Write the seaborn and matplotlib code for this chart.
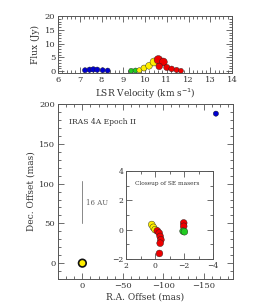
import pandas as pd
import seaborn as sns
import matplotlib.pyplot as plt
from matplotlib.ticker import MultipleLocator

# spectrum: LSR velocity (km/s), flux (Jy), colour group
vel_blue = [7.24, 7.45, 7.62, 7.80, 8.05, 8.28]
flux_blue = [0.3, 0.5, 0.6, 0.5, 0.3, 0.2]
vel_green = [9.36, 9.56]
flux_green = [0.1, 0.2]
vel_yellow = [9.74, 9.95, 10.18, 10.41]
flux_yellow = [0.3, 1.1, 1.9, 3.3]
vel_red = [10.61, 10.84, 10.65, 11.00, 11.22, 11.45, 11.65]
flux_red = [4.1, 3.3, 1.7, 1.3, 0.8, 0.4, 0.1]

# maps (mas)
ra_main = [-165.0, 0.0]
dec_main = [188.0, 0.0]
grp_main = ["blue", "yellow"]

ra_yellow_in = [0.23, 0.12, 0.0]
dec_yellow_in = [0.35, 0.16, 0.0]
ra_red_in = [-0.15, -0.28, -0.35, -0.40, -0.35, -0.30, -1.97, -1.97]
dec_red_in = [-0.08, -0.23, -0.46, -0.69, -0.92, -1.62, 0.46, 0.23]
ra_green_in = [-1.93, -2.02]
dec_green_in = [-0.10, -0.14]

colors = {"blue": "#0000d0", "green": "#22cc22", "yellow": "#ffee00", "red": "#ee0000"}

spec = pd.concat([
    pd.DataFrame({"vel": vel_blue, "flux": flux_blue, "grp": "blue"}),
    pd.DataFrame({"vel": vel_green, "flux": flux_green, "grp": "green"}),
    pd.DataFrame({"vel": vel_yellow, "flux": flux_yellow, "grp": "yellow"}),
    pd.DataFrame({"vel": vel_red, "flux": flux_red, "grp": "red"}),
])
main = pd.DataFrame({"ra": ra_main, "dec": dec_main, "grp": grp_main})
inset = pd.concat([
    pd.DataFrame({"ra": ra_yellow_in, "dec": dec_yellow_in, "grp": "yellow"}),
    pd.DataFrame({"ra": ra_red_in, "dec": dec_red_in, "grp": "red"}),
    pd.DataFrame({"ra": ra_green_in, "dec": dec_green_in, "grp": "green"}),
])

sns.set_style("ticks")
plt.rcParams["font.family"] = ["DejaVu Serif"]
plt.rcParams["font.size"] = 6
gray = "#555555"


def style(ax, xmaj, xmin, ymaj, ymin, fs=6):
    for s in ax.spines.values():
        s.set_color(gray)
        s.set_linewidth(0.7)
    ax.xaxis.set_major_locator(MultipleLocator(xmaj))
    ax.xaxis.set_minor_locator(MultipleLocator(xmin))
    ax.yaxis.set_major_locator(MultipleLocator(ymaj))
    ax.yaxis.set_minor_locator(MultipleLocator(ymin))
    ax.tick_params(which="both", direction="in", top=True, right=True,
                   color=gray, width=0.6, labelsize=fs, labelcolor="#333333", pad=2)
    ax.tick_params(which="major", length=4)
    ax.tick_params(which="minor", length=2)


fig = plt.figure(figsize=(2.74, 3.08), dpi=100)

# spectrum
ax1 = fig.add_axes([0.212, 0.763, 0.635, 0.185])
sns.scatterplot(data=spec, x="vel", y="flux", hue="grp", palette=colors,
                size="flux", sizes=(12, 38), size_norm=(0, 4.2),
                edgecolor="#222222", linewidth=0.3, legend=False, ax=ax1, zorder=3)
ax1.set_xlim(6, 14)
ax1.set_ylim(-0.7, 20)
style(ax1, 1, 0.2, 5, 1)
ax1.set_xlabel("LSR Velocity (km s$^{-1}$)", fontsize=6.5, color="#333333", labelpad=2)
ax1.set_ylabel("Flux (Jy)", fontsize=6.5, color="#333333", labelpad=3)

# map
ax2 = fig.add_axes([0.212, 0.094, 0.638, 0.568])
sns.scatterplot(data=main, x="ra", y="dec", hue="grp", palette=colors,
                s=[14, 30], edgecolor="#111111", linewidth=[0.3, 1.2],
                legend=False, ax=ax2, zorder=3)
ax2.set_xlim(30, -186)
ax2.set_ylim(-20, 200)
style(ax2, 50, 10, 50, 10)
ax2.set_xlabel("R.A. Offset (mas)", fontsize=6.5, color="#333333", labelpad=2)
ax2.set_ylabel("Dec. Offset (mas)", fontsize=6.5, color="#333333", labelpad=3)
ax2.text(0.06, 0.9, "IRAS 4A Epoch II", transform=ax2.transAxes, fontsize=5.5,
         color="#333333", va="center")
ax2.plot([0, 0], [51, 103], color="#888888", lw=0.7)
ax2.text(-5, 76, "16 AU", fontsize=5, color="#666666", va="center")

# inset
ax3 = fig.add_axes([0.460, 0.159, 0.318, 0.286])
sns.scatterplot(data=inset, x="ra", y="dec", hue="grp", palette=colors,
                s=24, edgecolor="#222222", linewidth=0.3, legend=False, ax=ax3, zorder=3)
ax3.set_xlim(2, -4)
ax3.set_ylim(-2, 4)
style(ax3, 2, 1, 2, 1, fs=5.5)
ax3.set_xlabel("")
ax3.set_ylabel("")
ax3.text(0.1, 0.86, "Closeup of SE masers", transform=ax3.transAxes,
         fontsize=4.2, color="#333333", va="center")

fig.savefig("out.png", dpi=100)
